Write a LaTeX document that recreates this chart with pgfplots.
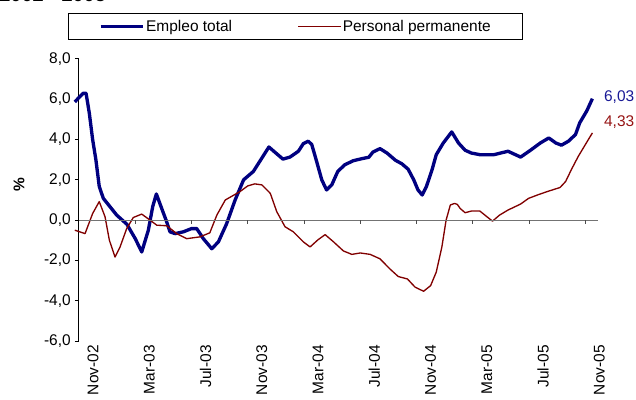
\documentclass[border=0pt]{standalone}
\usepackage{pgfplots}
\pgfplotsset{compat=1.18}
\usepackage{fontspec}
\setmainfont{Liberation Sans}
\definecolor{empleo}{RGB}{0,0,128}
\definecolor{perm}{RGB}{128,0,0}
\definecolor{empleolbl}{RGB}{25,25,150}
\definecolor{permlbl}{RGB}{150,20,20}

% x = months since Nov-02, y = % variation
\pgfplotstableread{
m v
-0.3 5.87
0.3 6.30
0.5 6.30
0.73 5.33
0.97 4.00
1.2 3.00
1.44 1.67
1.73 1.08
2.2 0.67
2.68 0.25
3.4 -0.20
4.0 -0.92
4.46 -1.58
4.93 -0.50
5.24 0.67
5.5 1.30
5.88 0.58
6.19 0.00
6.47 -0.58
6.83 -0.67
7.42 -0.58
8.0 -0.42
8.37 -0.42
8.84 -0.92
9.44 -1.42
9.91 -1.08
10.5 -0.17
11.1 1.00
11.7 2.00
12.4 2.42
13.0 3.08
13.5 3.63
14.0 3.33
14.5 3.03
15.0 3.13
15.6 3.42
15.95 3.80
16.3 3.92
16.55 3.75
16.86 3.00
17.26 2.00
17.6 1.50
17.97 1.75
18.4 2.42
18.9 2.75
19.5 2.95
20.1 3.05
20.6 3.12
20.9 3.38
21.4 3.55
21.9 3.33
22.5 2.97
22.95 2.80
23.4 2.53
23.8 2.00
24.1 1.50
24.4 1.25
24.7 1.67
25.1 2.50
25.4 3.25
25.9 3.83
26.5 4.38
26.98 3.83
27.45 3.47
27.9 3.33
28.5 3.25
29.5 3.25
30.5 3.42
31.4 3.13
32.1 3.47
32.8 3.83
33.4 4.08
33.9 3.83
34.3 3.72
34.8 3.92
35.3 4.25
35.6 4.83
36.1 5.42
36.5 6.03
}\empleotable

\pgfplotstableread{
m v
-0.3 -0.50
0.43 -0.67
0.97 0.33
1.44 0.92
1.85 0.17
2.16 -1.00
2.56 -1.83
2.92 -1.33
3.39 -0.42
3.86 0.13
4.46 0.30
5.05 0.00
5.53 -0.25
6.24 -0.28
6.95 -0.67
7.66 -0.92
8.6 -0.83
9.3 -0.63
9.8 0.25
10.4 1.00
10.9 1.20
11.45 1.42
12.0 1.70
12.5 1.80
13.0 1.75
13.6 1.33
14.06 0.42
14.65 -0.33
15.24 -0.58
15.95 -1.08
16.43 -1.33
17.0 -0.97
17.5 -0.72
18.1 -1.08
18.8 -1.53
19.4 -1.70
20.0 -1.63
20.7 -1.70
21.4 -1.92
22.1 -2.42
22.7 -2.80
23.35 -2.92
23.9 -3.33
24.5 -3.53
25.0 -3.25
25.4 -2.58
25.8 -1.33
26.1 0.00
26.4 0.75
26.7 0.83
26.9 0.78
27.1 0.58
27.45 0.37
27.9 0.45
28.5 0.45
29.0 0.17
29.4 -0.05
29.9 0.25
30.5 0.50
31.4 0.80
31.96 1.08
32.6 1.25
33.3 1.42
34.2 1.62
34.6 1.92
35.0 2.50
35.5 3.17
36.0 3.75
36.5 4.33
}\permtable

\begin{document}
\begin{tikzpicture}[x=0.75pt,y=0.75pt]
\useasboundingbox (0,0) rectangle (636,400);
\node[anchor=base west,inner sep=0pt,font=\fontsize{15}{18}\selectfont\bfseries] at (-1,398.5) {2002 - 2005};
\node[rotate=90,inner sep=0pt,font=\fontsize{11.6}{14}\selectfont\bfseries] at (19,215) {\%};
\begin{axis}[
    at={(59.25pt,44.25pt)}, anchor=south west,
    width=389.25pt, height=211.5pt, scale only axis,
    xmin=0, xmax=36.9, ymin=-6, ymax=8,
    axis y line*=left, axis x line*=bottom,
    x axis line style={draw=none},
    y axis line style={black, line width=0.75pt},
    xtick={0,4,...,36},
    xticklabels={Nov-02,Mar-03,Jul-03,Nov-03,Mar-04,Jul-04,Nov-04,Mar-05,Jul-05,Nov-05},
    xtick style={draw=none},
    ytick={-6,-4,...,8},
    yticklabels={{-6,0},{-4,0},{-2,0},{0,0},{2,0},{4,0},{6,0},{8,0}},
    ytick style={black, line width=0.75pt},
    tick align=outside, major tick length=3pt,
    tick label style={font=\fontsize{11.6}{14}\selectfont},
    xticklabel style={rotate=90, anchor=east, inner sep=0pt, yshift=-10.5pt},
    yticklabel style={inner sep=0pt, xshift=-3pt},
    clip=false,
    legend columns=2,
    legend image code/.code={\draw[#1] (0pt,0pt) -- (32pt,0pt);},
    legend style={at={(-0.0218,1.1642)}, anchor=north west, draw=black, line width=0.75pt,
        font=\fontsize{11.6}{14}\selectfont, inner xsep=23pt, inner ysep=4pt,
        nodes={inner sep=1pt},
        /tikz/every even column/.append style={column sep=48pt}},
]
\addplot[empleo, line width=2.5pt, line join=round] table[x=m,y=v] {\empleotable};
\addlegendentry{Empleo total}
\addplot[perm, line width=1pt, line join=round] table[x=m,y=v] {\permtable};
\addlegendentry{Personal permanente}
\draw[black!55, line width=0.75pt] (axis cs:0,0) -- (axis cs:36.9,0);
\pgfplotsinvokeforeach{4,8,...,36}{\draw[black!70, line width=0.75pt] (axis cs:#1,0) -- ++(0pt,-3pt);}
\node[anchor=west, inner sep=0pt, text=empleolbl, font=\fontsize{11.6}{14}\selectfont] at (axis cs:36.5,6.1) [xshift=8.6pt] {6,03};
\node[anchor=west, inner sep=0pt, text=permlbl, font=\fontsize{11.6}{14}\selectfont] at (axis cs:36.5,4.89) [xshift=8.6pt] {4,33};
\end{axis}
\end{tikzpicture}
\end{document}
